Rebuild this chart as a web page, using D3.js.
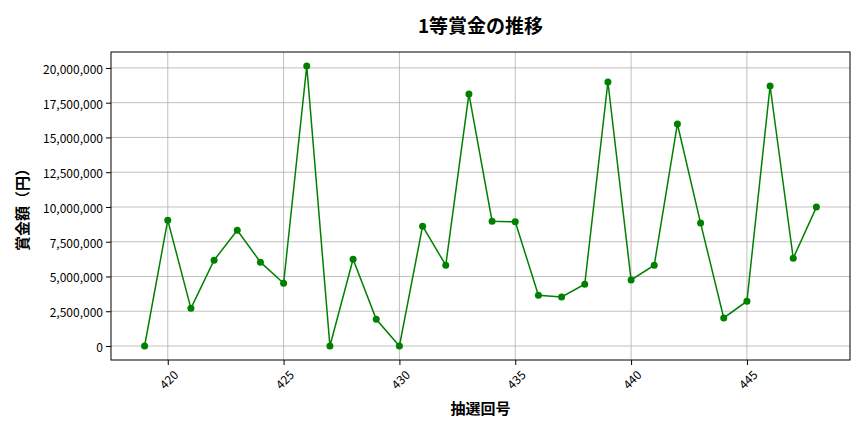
<!DOCTYPE html>
<html>
<head>
<meta charset="utf-8">
<script src="https://cdn.jsdelivr.net/npm/d3@7"></script>
<style>
  html, body { margin: 0; padding: 0; background: #fff; }
  svg { display: block; font-family: "Noto Sans CJK JP", "Noto Sans", sans-serif; }
  .grid line { stroke: #b0b0b0; stroke-width: 0.8; }
  .axis path, .axis line { stroke: #000; }
  .axis text { font-size: 12px; fill: #000; font-family: "Noto Sans CJK JP", "Noto Sans", sans-serif; }
</style>
</head>
<body>
<svg id="chart" width="864" height="432"></svg>
<script>
// draw numbers and 1st prize amounts (yen)
const draws = [419, 420, 421, 422, 423, 424, 425, 426, 427, 428, 429, 430, 431, 432, 433,
  434, 435, 436, 437, 438, 439, 440, 441, 442, 443, 444, 445, 446, 447, 448];
const prizes = [0, 9050000, 2710000, 6170000, 8330000, 6030000, 4510000, 20140000, 0, 6240000,
  1920000, 0, 8620000, 5810000, 18130000, 8980000, 8930000, 3650000, 3530000, 4440000,
  18990000, 4750000, 5810000, 15970000, 8840000, 2020000, 3220000, 18700000, 6310000, 9990000];
const xTicks = [420, 425, 430, 435, 440, 445];
const yTicks = [0, 2500000, 5000000, 7500000, 10000000, 12500000, 15000000, 17500000, 20000000];

const title = '1等賞金の推移';
const xLabel = '抽選回号';
const yLabel = '賞金額（円）';

const m = { top: 52, right: 14, bottom: 72, left: 111 };
const W = 864, H = 432;
const iw = W - m.left - m.right;
const ih = H - m.top - m.bottom;

const svg = d3.select('#chart');
const g = svg.append('g').attr('transform', `translate(${m.left},${m.top})`);

// matplotlib-style 5% margins
const xMin = d3.min(draws), xMax = d3.max(draws);
const xPad = (xMax - xMin) * 0.05;
const x = d3.scaleLinear().domain([xMin - xPad, xMax + xPad]).range([0, iw]);
const yMax = d3.max(prizes);
const yPad = yMax * 0.05;
const y = d3.scaleLinear().domain([-yPad, yMax + yPad]).range([ih, 0]);

// grid
g.append('g').attr('class', 'grid')
  .selectAll('line.v').data(xTicks).join('line')
  .attr('x1', (d) => x(d)).attr('x2', (d) => x(d)).attr('y1', 0).attr('y2', ih);
g.append('g').attr('class', 'grid')
  .selectAll('line.h').data(yTicks).join('line')
  .attr('x1', 0).attr('x2', iw).attr('y1', (d) => y(d)).attr('y2', (d) => y(d));

// axes
const fmt = d3.format(',');
const xa = g.append('g').attr('class', 'axis').attr('transform', `translate(0,${ih})`)
  .call(d3.axisBottom(x).tickValues(xTicks).tickSize(5).tickSizeOuter(0).tickFormat(d3.format('d')));
xa.attr('font-family', null).attr('font-size', null);
xa.selectAll('text')
  .attr('text-anchor', 'middle')
  .attr('dy', null)
  .attr('y', 19)
  .attr('dominant-baseline', 'central')
  .attr('transform', 'rotate(-45 0 19)');
xa.select('.domain').remove();

const ya = g.append('g').attr('class', 'axis')
  .call(d3.axisLeft(y).tickValues(yTicks).tickSize(5).tickSizeOuter(0).tickFormat(fmt));
ya.attr('font-family', null).attr('font-size', null);
ya.selectAll('text').attr('x', -8).attr('dy', null).attr('dominant-baseline', 'central');
ya.select('.domain').remove();

// frame
g.append('rect').attr('width', iw).attr('height', ih)
  .attr('fill', 'none').attr('stroke', '#000').attr('stroke-width', 1);

// line + markers
const pts = draws.map((d, i) => [d, prizes[i]]);
g.append('path').datum(pts)
  .attr('fill', 'none').attr('stroke', 'green').attr('stroke-width', 1.5)
  .attr('d', d3.line().x((d) => x(d[0])).y((d) => y(d[1])));
g.append('g').selectAll('circle').data(pts).join('circle')
  .attr('cx', (d) => x(d[0])).attr('cy', (d) => y(d[1])).attr('r', 3.5)
  .attr('fill', 'green');

// text
svg.append('text').attr('x', m.left + iw / 2).attr('y', 24)
  .attr('text-anchor', 'middle').attr('dominant-baseline', 'central')
  .attr('font-size', 19).attr('font-weight', 'bold').text(title);
svg.append('text').attr('x', m.left + iw / 2).attr('y', 407)
  .attr('text-anchor', 'middle').attr('dominant-baseline', 'central')
  .attr('font-size', 15).attr('font-weight', 'bold').text(xLabel);
svg.append('text').attr('transform', `translate(21,${m.top + ih / 2}) rotate(-90)`)
  .attr('text-anchor', 'middle').attr('dominant-baseline', 'central')
  .attr('font-size', 15).attr('font-weight', 'bold').text(yLabel);
</script>
</body>
</html>
